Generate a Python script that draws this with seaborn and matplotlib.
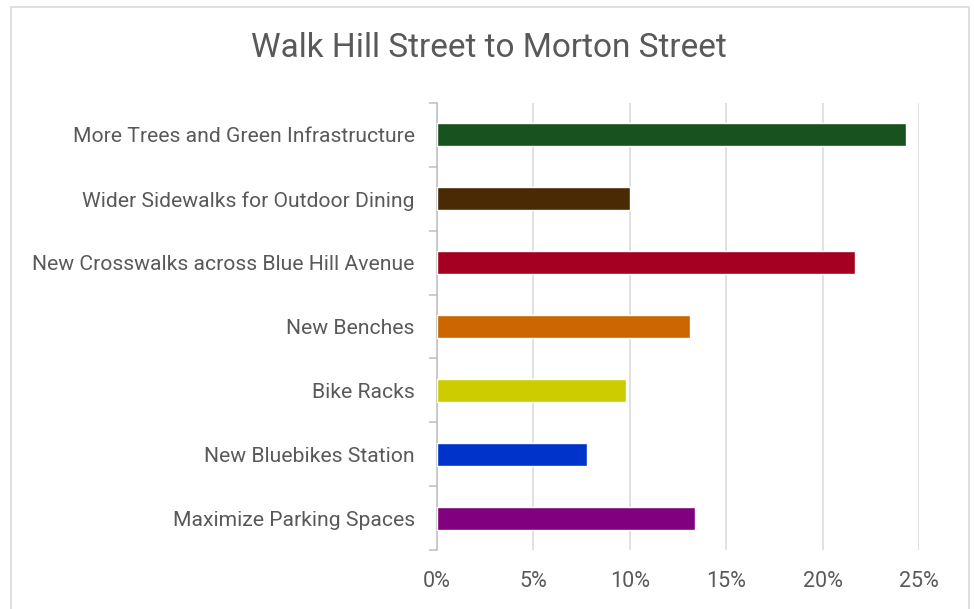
import matplotlib
matplotlib.use("Agg")
import matplotlib.pyplot as plt
from matplotlib.patches import Rectangle
from matplotlib.ticker import FuncFormatter, FixedLocator
import seaborn as sns
import pandas as pd

# Survey results: share of responses per improvement
categories = [
    "More Trees and Green Infrastructure",
    "Wider Sidewalks for Outdoor Dining",
    "New Crosswalks across Blue Hill Avenue",
    "New Benches",
    "Bike Racks",
    "New Bluebikes Station",
    "Maximize Parking Spaces",
]
shares = [24.3, 10.0, 21.7, 13.1, 9.8, 7.8, 13.4]
bar_colors = ["#17521f", "#4a2a04", "#a50021", "#cc6600", "#cccc00", "#0033cc", "#800080"]
x_ticks = [0, 5, 10, 15, 20, 25]

df = pd.DataFrame({"category": categories, "share": shares})

sns.set_theme(style="white")
plt.rcParams["font.family"] = ["Roboto", "DejaVu Sans"]

text_gray = "#595959"
grid_gray = "#d9d9d9"

fig = plt.figure(figsize=(9.74, 6.09), dpi=100)
ax = fig.add_axes([437 / 974, 1 - 550 / 609, (919 - 437) / 974, (550 - 103) / 609])

sns.barplot(
    data=df, x="share", y="category", hue="category",
    palette=bar_colors, orient="h", width=0.36, legend=False,
    saturation=1, ax=ax, zorder=3,
)

ax.set_xlim(0, 25)
ax.set_ylim(len(categories) - 0.5, -0.5)
ax.xaxis.set_major_locator(FixedLocator(x_ticks))
ax.xaxis.set_major_formatter(FuncFormatter(lambda v, _: f"{v:.0f}%"))
ax.grid(axis="x", color=grid_gray, linewidth=1.1, zorder=0)
ax.grid(axis="y", visible=False)
ax.set_axisbelow(True)

for side in ("top", "right", "bottom"):
    ax.spines[side].set_visible(False)
ax.spines["left"].set_color("#bfbfbf")
ax.spines["left"].set_linewidth(1.1)

# category separators as small outward ticks on the left axis
ax.yaxis.set_minor_locator(FixedLocator([i - 0.5 for i in range(len(categories) + 1)]))
ax.tick_params(axis="y", which="minor", length=6, width=1.1, color="#bfbfbf", left=True)
ax.tick_params(axis="y", which="major", length=0, pad=16, labelsize=15.2, labelcolor=text_gray)
ax.tick_params(axis="x", which="major", length=0, pad=15, labelsize=15.5, labelcolor=text_gray)
ax.set_xlabel("")
ax.set_ylabel("")

fig.text(489 / 974, 1 - 48 / 609, "Walk Hill Street to Morton Street",
         ha="center", va="center", fontsize=24, color=text_gray)

# chart frame
fig.patches.append(Rectangle((11 / 974, -0.01), (969 - 11) / 974, 1 - 7 / 609 + 0.01,
                             transform=fig.transFigure, fill=False,
                             edgecolor="#d9d9d9", linewidth=1.2))

fig.savefig("out.png", dpi=100)
